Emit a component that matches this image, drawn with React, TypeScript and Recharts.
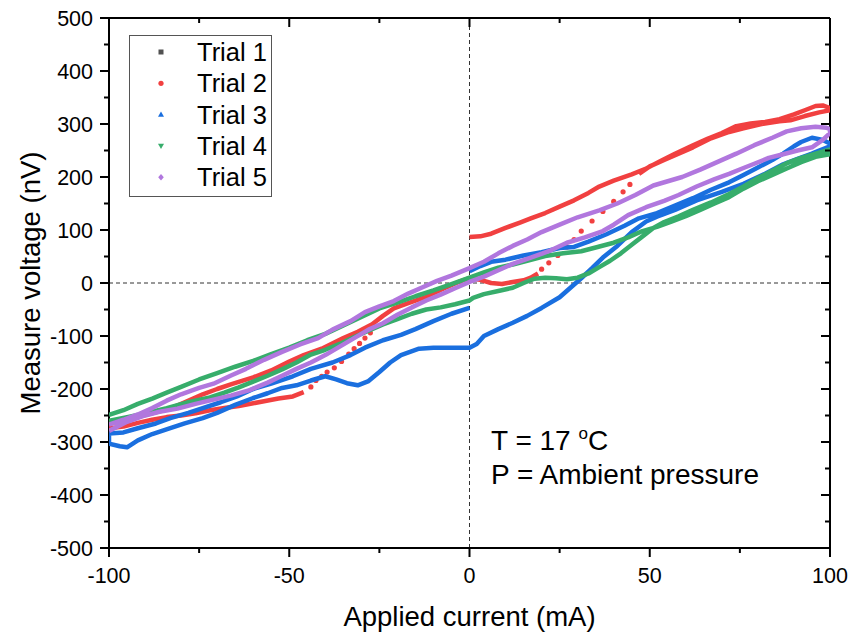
import React from "react";
import { Legend, ReferenceLine, Scatter, ScatterChart, XAxis, YAxis } from "recharts";

const FONT = "Arial, 'Liberation Sans', sans-serif";

const xTicks = [-100, -75, -50, -25, 0, 25, 50, 75, 100];
const yTicks = [
    -500, -450, -400, -350, -300, -250, -200, -150, -100, -50, 0, 50, 100, 150,
    200, 250, 300, 350, 400, 450, 500,
];

const trialNames = ["Trial 1", "Trial 2", "Trial 3", "Trial 4", "Trial 5"];
const trialColors = ["#515151", "#F14040", "#1A6FDF", "#37AD6B", "#B177DE"];

// Trial 1 is completely covered by the other runs in the original figure
const trial1: number[][] = [];

// Trial 2 (red): dense runs plus two sparse jumps
const trial2RunA = [
    [0, 87], [3, 88], [6, 93], [10, 104], [14, 114], [17, 122], [21, 132], [25, 144],
    [29, 156], [33, 170], [36, 182], [40, 193], [45, 205], [49, 216], [53, 230],
    [57, 244], [62, 260], [66, 272], [70, 283], [74, 296], [78, 301], [82, 304],
    [86, 309], [90, 318], [93, 326], [96, 334], [98, 335], [100, 330], [100, 326],
    [97, 322], [93, 315], [89, 307], [86, 305], [81, 300], [76, 292], [72, 285],
    [67, 273], [62, 256], [58, 244], [54, 232], [50, 220], [47, 206],
];
const trial2JumpA = [
    [44.5, 186], [42.6, 172], [40, 154], [37, 135], [34, 117], [31, 98], [29, 82],
    [27, 68], [24.5, 52], [22, 38], [20, 26],
];
const trial2RunB = [
    [19, 18], [17, 10], [15, 5], [12, 2], [9, -2], [6, 0], [3, 6], [0, 9], [-3, 2],
    [-7, -10], [-12, -26], [-17, -38], [-21, -48], [-24, -62], [-27, -78],
    [-31, -92], [-35, -104], [-41, -124], [-46, -136], [-50, -148], [-55, -165],
    [-60, -178], [-66, -191], [-70, -200], [-74, -210], [-79, -225], [-83, -237],
    [-90, -249], [-96, -260], [-100, -265], [-100, -274], [-96, -271], [-92, -264],
    [-88, -258], [-84, -253], [-80, -250], [-76, -246], [-72, -240], [-68, -236],
    [-64, -232], [-60, -227], [-57, -223], [-53, -218], [-49, -214], [-46, -206],
];
const trial2JumpB = [
    [-44, -196], [-42.6, -184], [-41, -176], [-39.5, -168], [-37.5, -160],
    [-35.5, -148], [-33.5, -134], [-32, -124], [-30.5, -114], [-29, -104], [-27.5, -94],
];

// Trial 3 (blue)
const trial3 = [
    [0, 22], [3, 32], [6, 40], [10, 44], [15, 52], [20, 58], [25, 66], [29, 68],
    [33, 78], [38, 92], [43, 108], [47, 122], [52, 132], [57, 146], [62, 160],
    [67, 176], [72, 190], [76, 204], [80, 218], [84, 232], [87, 244], [90, 258],
    [92, 266], [95, 274], [98, 270], [100, 263], [100, 258], [97, 250], [95, 244],
    [91, 234], [87, 224], [82, 206], [76, 187], [70, 172], [63, 156], [57, 138],
    [52, 125], [49, 116], [45, 96], [41, 70], [37, 48], [34, 28], [31, 9], [28, -9],
    [25, -27], [20, -47], [16, -62], [12, -75], [8, -87], [4, -100], [2, -115],
    [0, -122], [-5, -122], [-10, -122], [-14, -124], [-19, -136], [-22, -150],
    [-25, -168], [-28, -185], [-31, -193], [-34, -189], [-37, -182], [-40, -176],
    [-44, -184], [-48, -193], [-52, -198], [-56, -208], [-60, -217], [-65, -230],
    [-70, -245], [-74, -255], [-79, -265], [-83, -274], [-88, -285], [-92, -297],
    [-95, -310], [-97, -308], [-100, -303], [-100, -284], [-96, -282], [-92, -274],
    [-87, -265], [-83, -255], [-78, -245], [-74, -236], [-69, -225], [-64.5, -214],
    [-60, -200], [-55, -190], [-49, -176], [-44, -162], [-38, -150], [-33, -136],
    [-29, -122], [-24, -108], [-19, -98], [-15, -87], [-10, -72], [-5, -58], [0, -47],
];

// Trial 4 (green)
const trial4 = [
    [-100, -249], [-96, -240], [-92, -228], [-88, -218], [-84, -207], [-80, -196],
    [-75, -182], [-70, -170], [-65, -158], [-60, -147], [-55, -134], [-50, -122],
    [-45, -108], [-40, -96], [-35, -80], [-30, -64], [-25, -48], [-20, -37],
    [-15, -25], [-10, -14], [-5, -2], [0, 10], [4, 20], [8, 29], [12, 35], [16, 42],
    [21, 51], [26, 56], [31, 60], [35, 67], [40, 76], [44, 86], [48, 98], [52, 106],
    [56, 116], [60, 126], [64, 138], [68, 150], [72, 162], [76, 178], [80, 192],
    [84, 204], [88, 216], [92, 228], [96, 238], [100, 243], [100, 252], [96, 244],
    [92, 236], [88, 226], [84, 212], [80, 198], [76, 182], [72, 168], [67, 152],
    [62, 138], [58, 126], [54, 115], [51, 104], [48, 88], [45, 72], [42, 56],
    [39, 42], [36, 30], [33, 18], [30, 10], [27, 7], [24, 9], [21, 10], [18, 8],
    [15, 0], [12, -9], [8, -15], [4, -21], [1, -28], [0, -33], [-4, -40], [-8, -46],
    [-12, -50], [-16, -58], [-20, -68], [-24, -78], [-28, -90], [-32, -102],
    [-36, -115], [-40, -126], [-44, -135], [-48, -150], [-52, -163], [-56, -175],
    [-60, -186], [-64, -197], [-68, -207], [-72, -216], [-78, -225], [-84, -236],
    [-90, -246], [-95, -253], [-100, -260],
];

// Trial 5 (purple)
const trial5 = [
    [-100, -267], [-96, -258], [-92, -248], [-88, -236], [-84, -222], [-80, -210],
    [-75, -198], [-71, -190], [-66, -174], [-62, -162], [-57, -145], [-52, -130],
    [-47, -116], [-42, -104], [-38, -88], [-33, -72], [-29, -55], [-25, -44],
    [-21, -34], [-17, -20], [-13, -8], [-9, 4], [-5, 14], [0, 28], [4, 40], [8, 56],
    [12, 70], [16, 82], [20, 96], [25, 110], [30, 124], [36, 137], [41, 150],
    [46, 166], [51, 184], [55, 192], [59, 200], [64, 214], [69, 229], [74, 244],
    [79, 260], [84, 274], [88, 286], [92, 292], [96, 295], [99, 293], [100, 290],
    [100, 283], [98, 270], [95, 256], [91, 250], [87, 243], [83, 236], [79, 225],
    [76, 217], [72, 206], [68, 196], [63, 182], [58, 166], [54, 155], [49, 143],
    [44, 128], [40, 110], [37, 98], [32, 86], [27, 76], [22, 60], [17, 48], [12, 36],
    [8, 24], [4, 12], [0, 2], [-4, -10], [-8, -22], [-12, -33], [-16, -46],
    [-20, -60], [-24, -76], [-28, -88], [-32, -104], [-36, -120], [-40, -136],
    [-44, -150], [-48, -162], [-52, -175], [-56, -188], [-61, -202], [-66, -212],
    [-71, -220], [-76, -228], [-81, -237], [-86, -243], [-90, -250], [-95, -262],
    [-100, -279],
];

const toPts = (arr: number[][]) => arr.map(([x, y]) => ({ x, y }));

const hidden = () => <g />;

function BottomTick({ x, y, payload }: any) {
    const major = payload.value % 50 === 0;
    return (
        <g>
            <line x1={x} x2={x} y1={y} y2={y + (major ? 9 : 5)} stroke="#000" strokeWidth={2} />
            {major ? (
                <text x={x} y={y + 35} textAnchor="middle" fontSize={21.5} fill="#000" fontFamily={FONT}>
                    {payload.value}
                </text>
            ) : null}
        </g>
    );
}

function TopTick({ x, y, payload }: any) {
    const major = payload.value % 50 === 0;
    return <line x1={x} x2={x} y1={y} y2={y + (major ? 9 : 5)} stroke="#000" strokeWidth={2} />;
}

function LeftTick({ x, y, payload }: any) {
    const major = payload.value % 100 === 0;
    return (
        <g>
            <line x1={x} x2={x - (major ? 9 : 5)} y1={y} y2={y} stroke="#000" strokeWidth={2} />
            {major ? (
                <text x={x - 16} y={y + 7.5} textAnchor="end" fontSize={21.5} fill="#000" fontFamily={FONT}>
                    {payload.value}
                </text>
            ) : null}
        </g>
    );
}

function RightTick({ x, y, payload }: any) {
    const major = payload.value % 100 === 0;
    return <line x1={x} x2={x - (major ? 9 : 5)} y1={y} y2={y} stroke="#000" strokeWidth={2} />;
}

function YTitle({ viewBox }: any) {
    const cy = viewBox ? viewBox.y + viewBox.height / 2 : 283;
    return (
        <text
            x={40}
            y={cy}
            transform={`rotate(-90 40 ${cy})`}
            textAnchor="middle"
            fontSize={27.5}
            fill="#000"
            fontFamily={FONT}
        >
            Measure voltage (nV)
        </text>
    );
}

function Marker({ i, cx, cy }: { i: number; cx: number; cy: number }) {
    const c = trialColors[i];
    if (i === 0) return <rect x={cx - 2.5} y={cy - 2.5} width={5} height={5} fill={c} />;
    if (i === 1) return <circle cx={cx} cy={cy} r={2.6} fill={c} />;
    if (i === 2) return <path d={`M${cx},${cy - 3.2} L${cx + 3},${cy + 2.2} L${cx - 3},${cy + 2.2} Z`} fill={c} />;
    if (i === 3) return <path d={`M${cx},${cy + 3.2} L${cx + 3},${cy - 2.2} L${cx - 3},${cy - 2.2} Z`} fill={c} />;
    return <path d={`M${cx},${cy - 3.2} L${cx + 2.8},${cy} L${cx},${cy + 3.2} L${cx - 2.8},${cy} Z`} fill={c} />;
}

function LegendBox() {
    return (
        <svg width={143} height={162} style={{ display: "block" }}>
            <rect x={0.5} y={0.5} width={142} height={161} fill="#fff" stroke="#555" strokeWidth={1} />
            {trialNames.map((name, i) => (
                <g key={name}>
                    <Marker i={i} cx={32} cy={17 + i * 31.3} />
                    <text x={68} y={17 + i * 31.3 + 9} fontSize={25.5} fill="#000" fontFamily={FONT}>
                        {name}
                    </text>
                </g>
            ))}
        </svg>
    );
}

const dot = (color: string) => (props: any) => <circle cx={props.cx} cy={props.cy} r={2.6} fill={color} />;

export default function App() {
    const lineStyle = (color: string) => ({ stroke: color, strokeWidth: 4.5, strokeLinejoin: "round" as const });
    return (
        <div style={{ position: "absolute", left: 0, top: 0, width: 855, height: 635, background: "#fff" }}>
            <ScatterChart width={855} height={635} margin={{ top: 17, right: 24, bottom: 0, left: 0 }}>
                <XAxis
                    xAxisId="b"
                    type="number"
                    dataKey="x"
                    domain={[-100, 100]}
                    allowDataOverflow
                    ticks={xTicks}
                    interval={0}
                    height={87}
                    tickSize={0}
                    tickMargin={0}
                    tickLine={false}
                    tick={<BottomTick />}
                    axisLine={{ stroke: "#000", strokeWidth: 2 }}
                    label={{
                        value: "Applied current (mA)",
                        position: "insideBottom",
                        offset: 9,
                        fontSize: 27.5,
                        fill: "#000",
                        fontFamily: FONT,
                    }}
                />
                <XAxis
                    xAxisId="t"
                    orientation="top"
                    type="number"
                    dataKey="x"
                    domain={[-100, 100]}
                    allowDataOverflow
                    ticks={xTicks}
                    interval={0}
                    height={1}
                    tickSize={0}
                    tickMargin={0}
                    tickLine={false}
                    tick={<TopTick />}
                    axisLine={{ stroke: "#000", strokeWidth: 2 }}
                />
                <YAxis
                    yAxisId="l"
                    type="number"
                    dataKey="y"
                    domain={[-500, 500]}
                    allowDataOverflow
                    ticks={yTicks}
                    interval={0}
                    width={109}
                    tickSize={0}
                    tickMargin={0}
                    tickLine={false}
                    tick={<LeftTick />}
                    axisLine={{ stroke: "#000", strokeWidth: 2 }}
                    label={{ content: <YTitle /> }}
                />
                <YAxis
                    yAxisId="r"
                    orientation="right"
                    type="number"
                    dataKey="y"
                    domain={[-500, 500]}
                    allowDataOverflow
                    ticks={yTicks}
                    interval={0}
                    width={1}
                    tickSize={0}
                    tickMargin={0}
                    tickLine={false}
                    tick={<RightTick />}
                    axisLine={{ stroke: "#000", strokeWidth: 2 }}
                />
                <ReferenceLine xAxisId="b" yAxisId="l" x={0} stroke="#333" strokeWidth={1} strokeDasharray="4 3" />
                <ReferenceLine xAxisId="b" yAxisId="l" y={0} stroke="#333" strokeWidth={1} strokeDasharray="4 3" />

                {/* mirror axes get an invisible copy so they have data to scale */}
                <Scatter xAxisId="t" yAxisId="r" data={toPts(trial5)} shape={hidden} isAnimationActive={false} legendType="none" />

                <Scatter name="Trial 1" xAxisId="b" yAxisId="l" data={toPts(trial1)} fill={trialColors[0]} isAnimationActive={false} />

                <Scatter xAxisId="b" yAxisId="l" data={toPts(trial2RunA)} line={lineStyle(trialColors[1])} lineType="joint" shape={hidden} isAnimationActive={false} />
                <Scatter xAxisId="b" yAxisId="l" data={toPts(trial2JumpA)} shape={dot(trialColors[1])} isAnimationActive={false} />
                <Scatter xAxisId="b" yAxisId="l" data={toPts(trial2RunB)} line={lineStyle(trialColors[1])} lineType="joint" shape={hidden} isAnimationActive={false} />
                <Scatter xAxisId="b" yAxisId="l" data={toPts(trial2JumpB)} shape={dot(trialColors[1])} isAnimationActive={false} />

                <Scatter xAxisId="b" yAxisId="l" data={toPts(trial3)} line={lineStyle(trialColors[2])} lineType="joint" shape={hidden} isAnimationActive={false} />
                <Scatter xAxisId="b" yAxisId="l" data={toPts(trial4)} line={lineStyle(trialColors[3])} lineType="joint" shape={hidden} isAnimationActive={false} />
                <Scatter xAxisId="b" yAxisId="l" data={toPts(trial5)} line={lineStyle(trialColors[4])} lineType="joint" shape={hidden} isAnimationActive={false} />

                <Legend
                    layout="vertical"
                    align="center"
                    verticalAlign="middle"
                    content={() => <LegendBox />}
                    wrapperStyle={{ position: "absolute", left: 129, top: 35, width: 143, height: 162 }}
                />
            </ScatterChart>
            <svg
                width={855}
                height={635}
                style={{ position: "absolute", left: 0, top: 0, pointerEvents: "none" }}
            >
                <text x={491} y={450} fontSize={28} fill="#000" fontFamily={FONT}>
                    T = 17 <tspan dy={-11} fontSize={17}>o</tspan>
                    <tspan dy={11}>C</tspan>
                </text>
                <text x={491} y={484} fontSize={28} fill="#000" fontFamily={FONT}>
                    P = Ambient pressure
                </text>
            </svg>
        </div>
    );
}
